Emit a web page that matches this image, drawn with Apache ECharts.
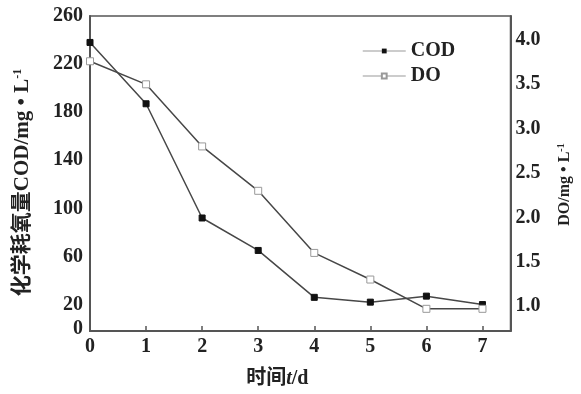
<!DOCTYPE html>
<html>
<head>
<meta charset="utf-8">
<script src="https://cdn.jsdelivr.net/npm/echarts@6/dist/echarts.min.js"></script>
<style>
  html, body { margin: 0; padding: 0; background: #fff; }
  #chart { width: 581px; height: 394px; }
</style>
</head>
<body>
<div id="chart"></div>
<script>
// 数据
const days = [0, 1, 2, 3, 4, 5, 6, 7];
const codValues = [238, 187, 92, 65, 26, 22, 27, 20];
const doValues = [3.76, 3.5, 2.8, 2.3, 1.6, 1.3, 0.97, 0.97];
const codTickLabels = [0, 20, 60, 100, 140, 180, 220, 260];
const doTickLabels = [1.0, 1.5, 2.0, 2.5, 3.0, 3.5, 4.0];
const dayTickLabels = ['0', '1', '2', '3', '4', '5', '6', '7'];

const serif = '"Liberation Serif", "Noto Sans CJK SC", serif';
const lineColor = '#474747';
const textColor = '#222';

let myChart = echarts.init(document.getElementById('chart'));

let options = {
  animation: false,
  textStyle: { fontFamily: serif },
  grid: {
    left: 90, right: 69, top: 16, bottom: 63,
    show: true, borderColor: '#555', borderWidth: 1.5
  },
  legend: {
    left: 357, top: 36,
    orient: 'vertical',
    itemWidth: 43, itemHeight: 6, itemGap: 5,
    textStyle: { fontFamily: serif, fontSize: 20, fontWeight: 'bold', color: textColor },
    lineStyle: { color: '#bbb', width: 1.5 },
    data: ['COD', 'DO']
  },
  xAxis: {
    type: 'value',
    min: 0, max: 7.5, interval: 1,
    name: '时间{i|t}/d',
    nameLocation: 'middle', nameGap: 38,
    nameTextStyle: {
      fontFamily: serif, fontSize: 20, fontWeight: 'bold', color: textColor,
      padding: [0, 46, 0, 0],
      rich: { i: { fontFamily: serif, fontSize: 20, fontWeight: 'bold', fontStyle: 'italic', color: textColor } }
    },
    axisLine: { onZero: false, lineStyle: { color: '#555', width: 2 } },
    axisTick: { inside: true, length: 5, lineStyle: { color: '#555', width: 1.5 } },
    axisLabel: {
      margin: 6, fontSize: 20, fontWeight: 'bold', color: textColor, fontFamily: serif,
      showMaxLabel: false,
      formatter: v => dayTickLabels[v] !== undefined ? dayTickLabels[v] : ''
    },
    splitLine: { show: false }
  },
  yAxis: [
    {
      type: 'value',
      min: -2, max: 260, interval: 2,
      name: '化学耗氧量COD/mg • L{sup|-1}',
      nameLocation: 'middle', nameGap: 57, nameRotate: 90,
      nameTextStyle: {
        fontFamily: serif, fontSize: 21, fontWeight: 'bold', color: textColor,
        padding: [0, 18, 0, 0],
        rich: { sup: { fontFamily: serif, fontSize: 12, fontWeight: 'bold', color: textColor, padding: [0, 0, 9, 0] } }
      },
      axisLine: { onZero: false, lineStyle: { color: '#555', width: 2 } },
      axisTick: { show: false },
      axisLabel: {
        margin: 7, fontSize: 20, fontWeight: 'bold', color: textColor, fontFamily: serif,
        formatter: v => codTickLabels.includes(Math.round(v)) && Math.abs(v - Math.round(v)) < 1e-6 ? String(Math.round(v)) : ''
      },
      splitLine: { show: false }
    },
    {
      type: 'value',
      position: 'right',
      min: 0.72, max: 4.27, interval: 0.01,
      name: 'DO/mg • L{sup|-1}',
      nameLocation: 'middle', nameGap: 46, nameRotate: 90,
      nameTextStyle: {
        fontFamily: serif, fontSize: 16, fontWeight: 'bold', color: textColor,
        padding: [0, 22, 0, 0],
        rich: { sup: { fontFamily: serif, fontSize: 10, fontWeight: 'bold', color: textColor, padding: [0, 0, 7, 0] } }
      },
      axisLine: { onZero: false, lineStyle: { color: '#555', width: 2 } },
      axisTick: { show: false },
      axisLabel: {
        margin: 5, fontSize: 20, fontWeight: 'bold', color: textColor, fontFamily: serif,
        formatter: v => {
          let t = doTickLabels.find(d => Math.abs(d - v) < 0.004);
          return t !== undefined ? t.toFixed(1) : '';
        }
      },
      splitLine: { show: false }
    }
  ],
  series: [
    {
      name: 'COD',
      type: 'line',
      yAxisIndex: 0,
      symbol: 'rect', symbolSize: 6,
      lineStyle: { color: lineColor, width: 1.5 },
      itemStyle: { color: '#111', borderColor: '#111' },
      data: days.map((d, i) => [d, codValues[i]])
    },
    {
      name: 'DO',
      type: 'line',
      yAxisIndex: 1,
      symbol: 'rect', symbolSize: 7,
      lineStyle: { color: lineColor, width: 1.5 },
      itemStyle: { color: '#fff', borderColor: '#999', borderWidth: 1 },
      data: days.map((d, i) => [d, doValues[i]])
    }
  ]
};

myChart.setOption(options);
</script>
</body>
</html>
